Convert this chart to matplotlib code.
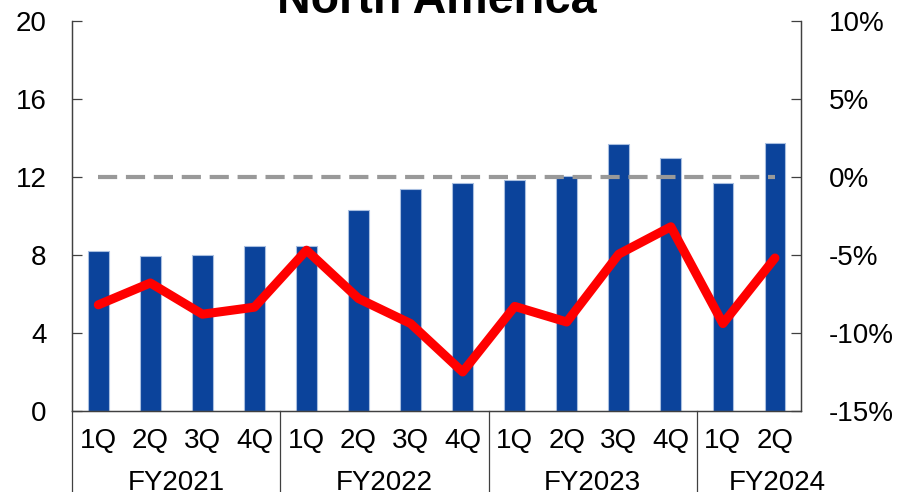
import matplotlib
matplotlib.use('Agg')
import matplotlib.pyplot as plt
import matplotlib.transforms as mtransforms

plt.rcParams['font.family'] = ['Liberation Sans', 'DejaVu Sans']

# data
quarters = ['1Q', '2Q', '3Q', '4Q', '1Q', '2Q', '3Q', '4Q',
            '1Q', '2Q', '3Q', '4Q', '1Q', '2Q']
years = ['FY2021', 'FY2022', 'FY2023', 'FY2024']
year_sizes = [4, 4, 4, 2]
bars = [8.2, 7.95, 8.0, 8.47, 8.47, 10.31, 11.35, 11.69,
        11.82, 12.02, 13.66, 12.98, 11.69, 13.75]
pct = [-8.2, -6.8, -8.8, -8.35, -4.7, -7.8, -9.4, -12.5,
       -8.3, -9.3, -4.95, -3.2, -9.4, -5.2]
ref_level = 12

bar_col = '#0B439B'
line_col = '#FF0000'
axis_col = '#404040'
fs = 20

fig = plt.figure(figsize=(9, 4.92), dpi=100)
ax = fig.add_axes([0.0803, 0.1646, 0.8097, 0.7934])
ax2 = ax.twinx()

x = list(range(len(bars)))
ax.bar(x, bars, width=0.4, color=bar_col, edgecolor='#A9BFE0', linewidth=0.8, zorder=2)
ax.plot(x, [ref_level] * len(x), color='#999999', lw=3, dashes=(4.6, 2.1), zorder=3)
ax2.plot(x, pct, color=line_col, lw=6.5, solid_joinstyle='round',
         solid_capstyle='round', zorder=4)

ax.set_xlim(-0.5, len(bars) - 0.5)
ax.set_ylim(0, 20)
ax.set_yticks([0, 4, 8, 12, 16, 20])
ax2.set_ylim(-15, 10)
ax2.set_yticks([-15, -10, -5, 0, 5, 10])
ax2.set_yticklabels(['%d%%' % v for v in [-15, -10, -5, 0, 5, 10]])
ax.set_xticks([])

for a in (ax, ax2):
    a.spines['top'].set_visible(False)
    for s in ('left', 'right', 'bottom'):
        a.spines[s].set_color(axis_col)
        a.spines[s].set_linewidth(0.9)
ax.tick_params(axis='y', direction='in', length=7, width=0.9, color=axis_col,
               labelsize=fs, pad=18.4)
ax2.tick_params(axis='y', direction='in', length=7, width=0.9, color=axis_col,
                labelsize=fs, pad=20)

# category labels under the axis
trans = mtransforms.blended_transform_factory(ax.transData, ax.transAxes)
for i, q in enumerate(quarters):
    ax.text(i, -0.0948, q, transform=trans, ha='center', va='baseline', fontsize=fs)

start = 0
for yr, n in zip(years, year_sizes):
    xc = start + (n - 1) / 2.0
    if n < 4:
        xc += 0.55
    ax.text(xc, -0.2024, yr, transform=trans, ha='center', va='baseline', fontsize=fs)
    ax.plot([start - 0.5, start - 0.5], [0, -0.21], transform=trans, color=axis_col,
            lw=0.9, clip_on=False)
    start += n

fig.text(0.485, 1 - 13 / 492.0, 'North America', ha='center', va='baseline',
         fontsize=33.6, fontweight='bold')

fig.savefig('out.png', dpi=100)
